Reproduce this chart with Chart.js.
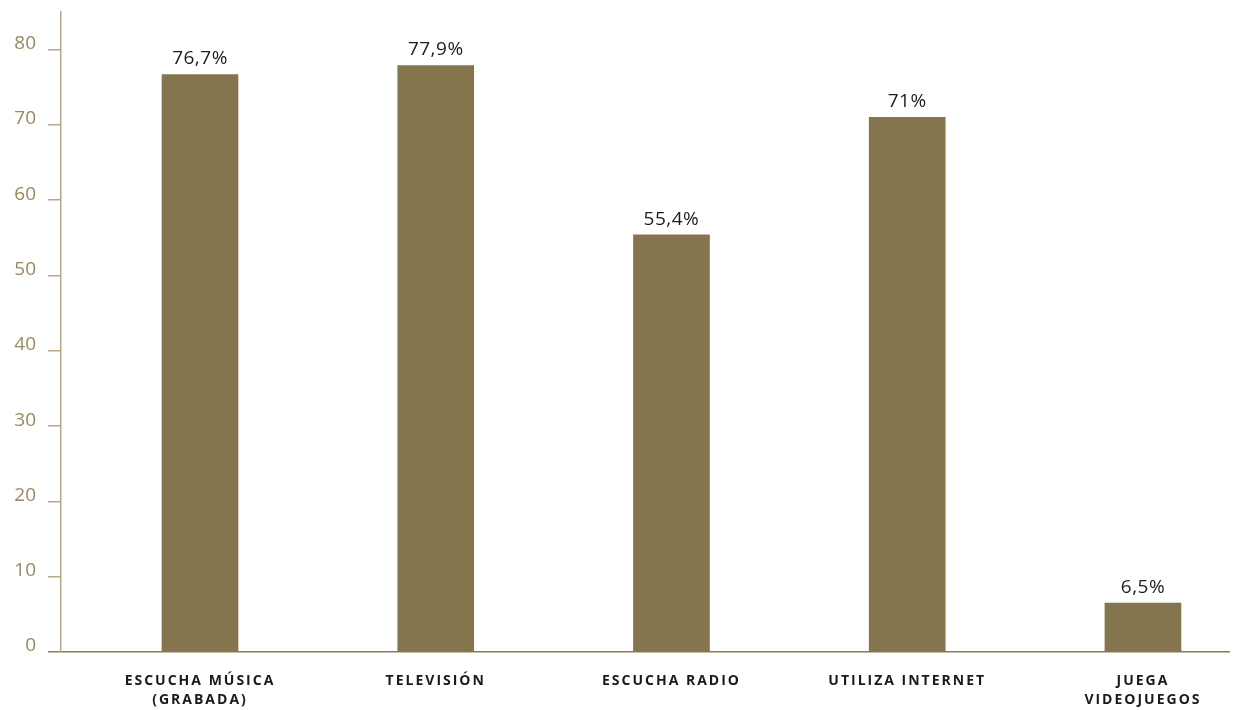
<!DOCTYPE html>
<html>
<head>
<meta charset="utf-8">
<script src="https://cdn.jsdelivr.net/npm/chart.js@4/dist/chart.umd.min.js"></script>
<style>
  html, body { margin: 0; padding: 0; background: #ffffff; overflow: hidden; }
  #wrap { width: 1234px; height: 710px; }
</style>
</head>
<body>
<div id="wrap"><canvas id="c" width="1234" height="710"></canvas></div>
<script>
// ---- data ----
const categories = [
  ["ESCUCHA MÚSICA", "(GRABADA)"],
  ["TELEVISIÓN"],
  ["ESCUCHA RADIO"],
  ["UTILIZA INTERNET"],
  ["JUEGA", "VIDEOJUEGOS"]
];
const values = [76.7, 77.9, 55.4, 71, 6.5];
const valueLabels = ["76,7%", "77,9%", "55,4%", "71%", "6,5%"];
const yTicks = [0, 10, 20, 30, 40, 50, 60, 70, 80];

// ---- styles ----
const barColor = "#85754e";
const axisGold = "#8c7b50";
const axisLight = "#b5a88f";
const tickText = "#9a8762";

const points = values.map((v, i) => ({ x: i, y: v }));

const valueLabelPlugin = {
  id: "valueLabels",
  beforeDraw(chart) {
    chart.ctx.letterSpacing = "0px";
  },
  afterDatasetsDraw(chart) {
    const ctx = chart.ctx;
    const meta = chart.getDatasetMeta(0);
    ctx.save();
    ctx.letterSpacing = "0.5px";
    ctx.font = "19px 'Open Sans', sans-serif";
    ctx.fillStyle = "#1c1c1c";
    ctx.textAlign = "center";
    ctx.textBaseline = "alphabetic";
    meta.data.forEach((bar, i) => {
      ctx.fillText(valueLabels[i], bar.x, bar.y - 10);
    });
    ctx.restore();
    // wide tracking for the category labels drawn next (x tick labels, z = 1)
    ctx.letterSpacing = "2px";
  },
  afterDraw(chart) {
    chart.ctx.letterSpacing = "0px";
  }
};

new Chart(document.getElementById("c"), {
  type: "bar",
  data: {
    datasets: [{
      data: points,
      backgroundColor: barColor,
      borderWidth: 0,
      barThickness: 76
    }]
  },
  options: {
    responsive: false,
    animation: false,
    layout: { padding: { top: 12, right: 5, left: 0, bottom: 0 } },
    plugins: { legend: { display: false }, tooltip: { enabled: false } },
    scales: {
      x: {
        type: "linear",
        offset: false,
        min: -0.5896,
        max: 4.365,
        afterFit(scale) { scale.height = 58; scale.paddingLeft = 0; scale.paddingRight = 0; },
        grid: { display: false, drawTicks: false, offset: false },
        border: { display: true, color: axisGold, width: 1.5 },
        ticks: {
          z: 1,
          stepSize: 1,
          includeBounds: false,
          autoSkip: false,
          maxRotation: 0,
          padding: 20,
          color: "#1a1a1a",
          font: { family: "'Open Sans', sans-serif", size: 14, weight: "bold", lineHeight: 1.32 },
          callback: (v) => (Number.isInteger(v) && categories[v]) ? categories[v] : ""
        }
      },
      y: {
        min: 0,
        max: 85,
        afterFit(scale) { scale.width = 61; scale.paddingTop = 0; scale.paddingBottom = 0; },
        afterBuildTicks(scale) { scale.ticks = yTicks.map(v => ({ value: v })); },
        grid: {
          drawOnChartArea: false,
          drawTicks: true,
          tickLength: 13,
          lineWidth: 1.5,
          color: (c) => (c.tick && c.tick.value === 0) ? axisGold : axisLight
        },
        border: { display: true, color: axisLight, width: 1.5 },
        ticks: {
          padding: 12,
          labelOffset: -6,
          color: tickText,
          font: { family: "'Open Sans', sans-serif", size: 19 }
        }
      }
    }
  },
  plugins: [valueLabelPlugin]
});
</script>
</body>
</html>
